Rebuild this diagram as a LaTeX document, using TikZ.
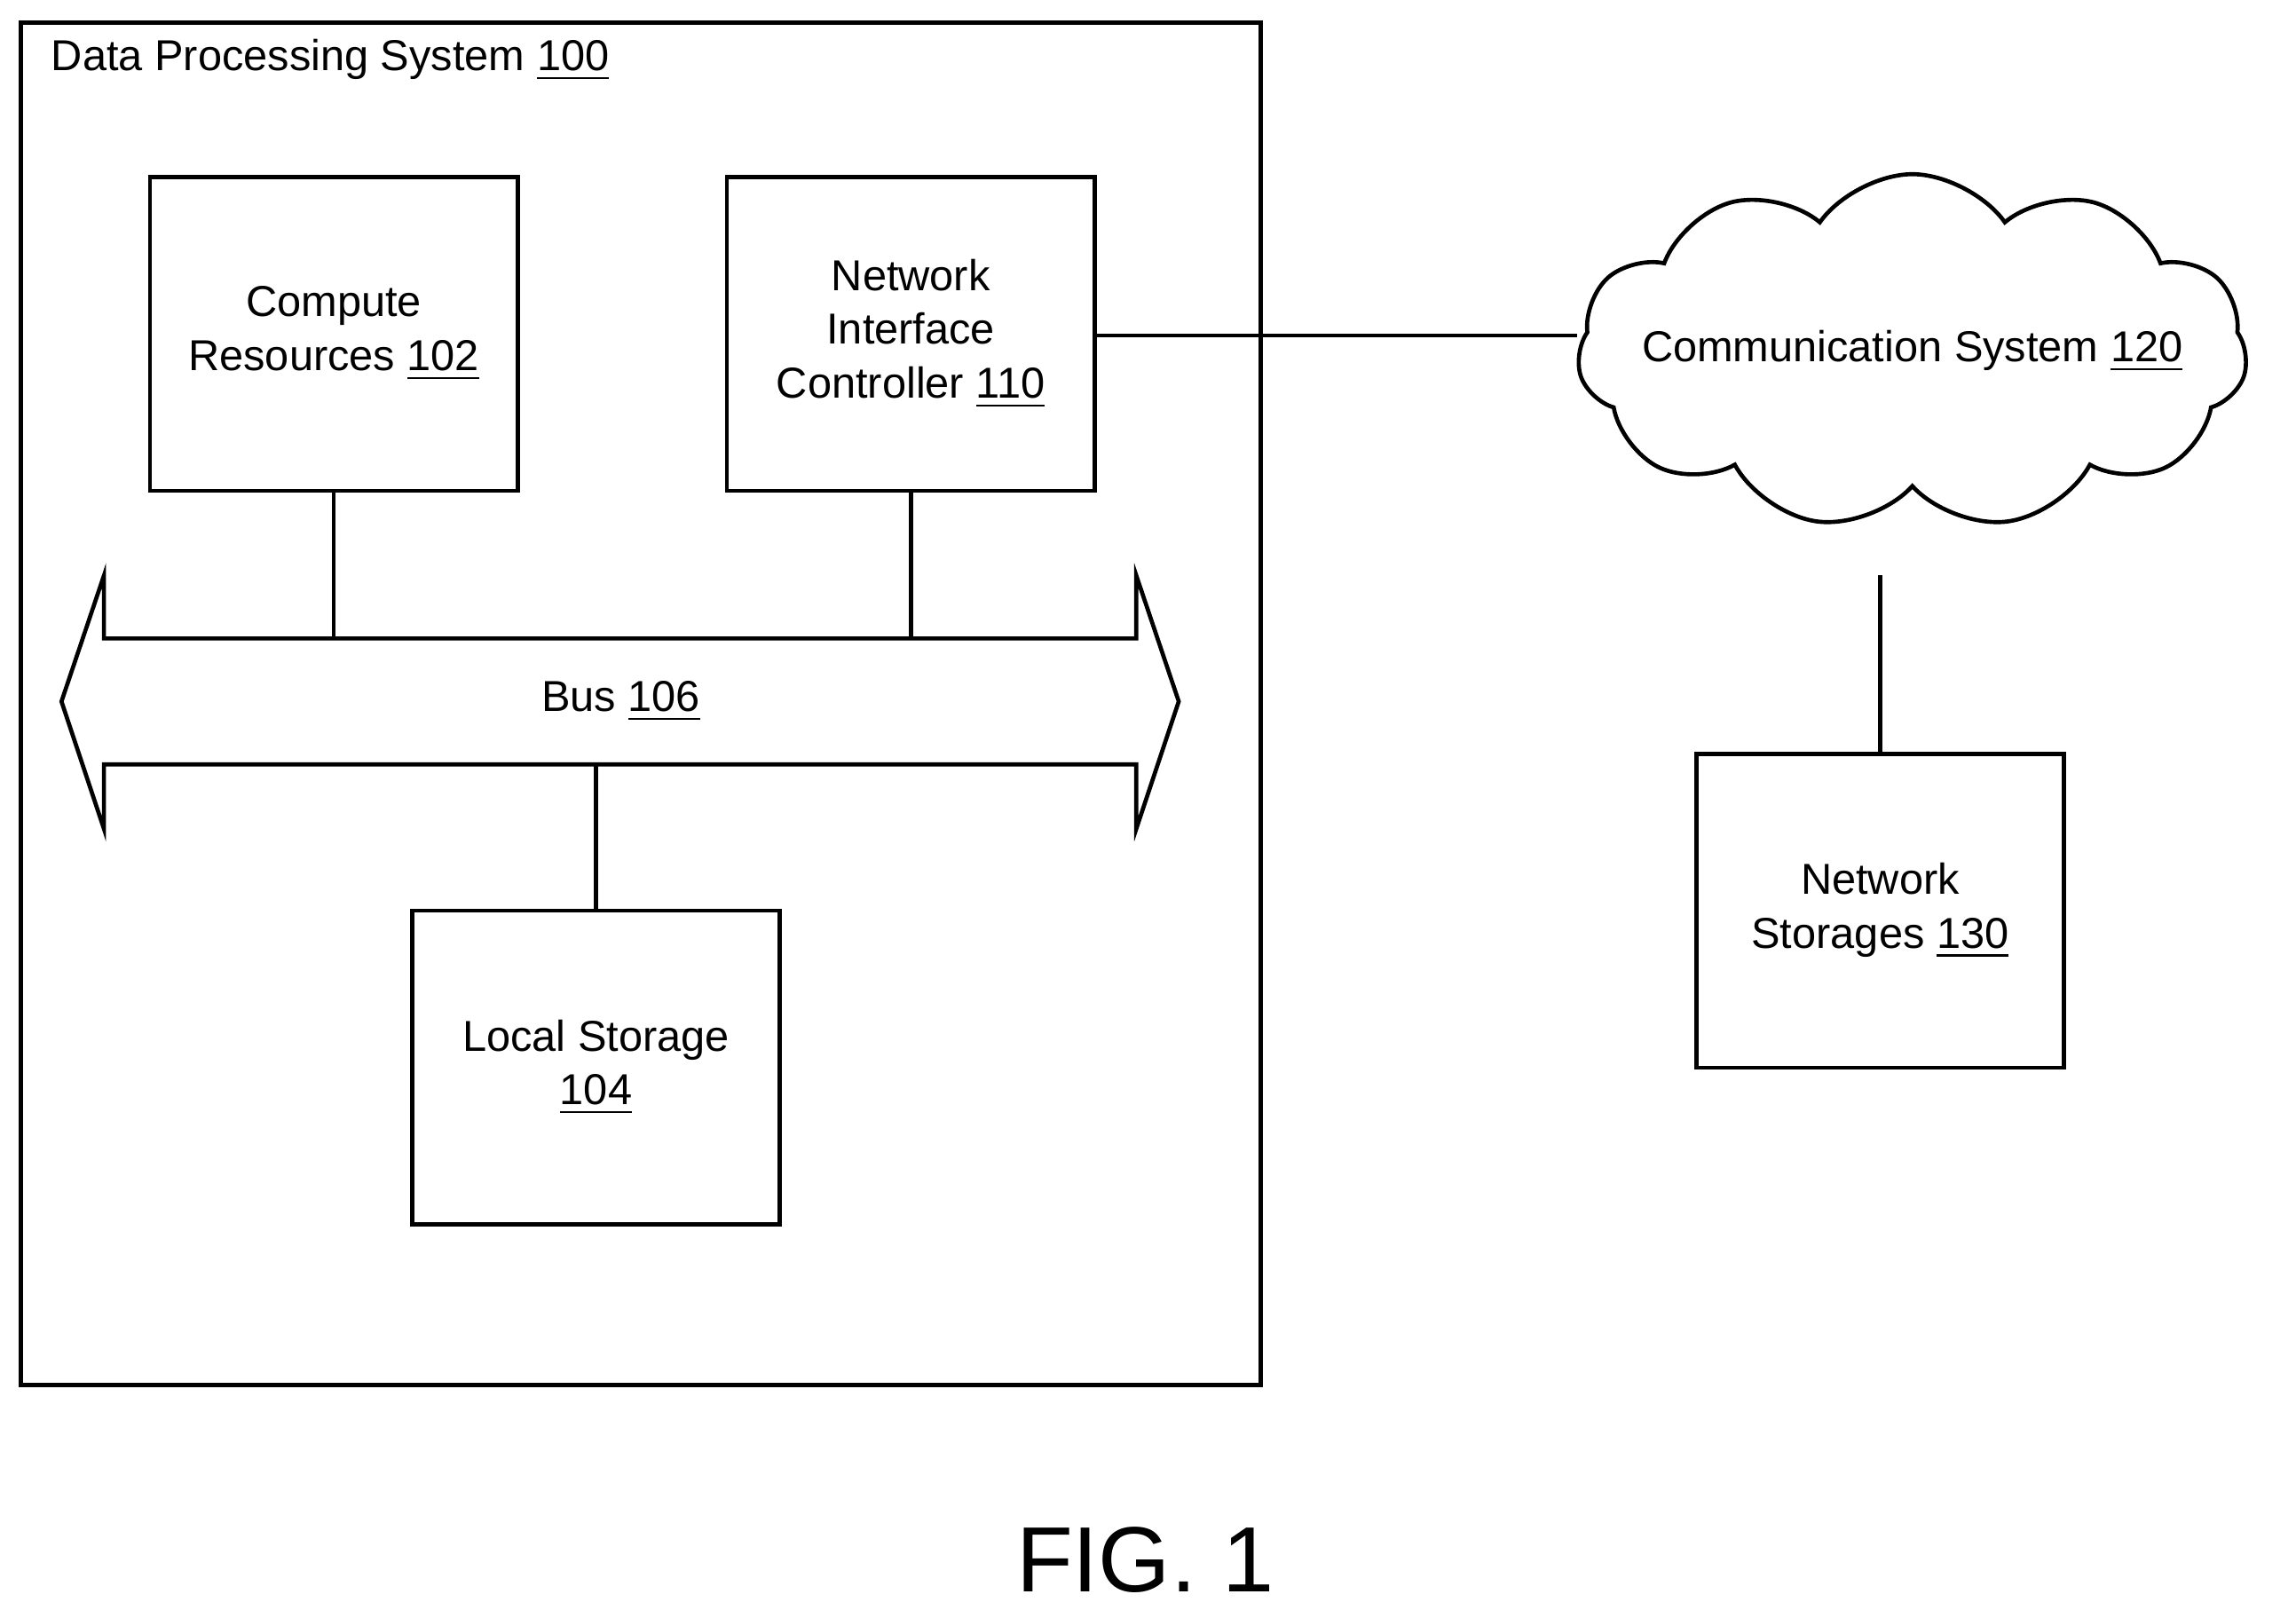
\documentclass[tikz,border=0pt]{standalone}
\usepackage{fontspec}
\setmainfont{Liberation Sans}
\usetikzlibrary{positioning,shapes.symbols}

\begin{document}
\begin{tikzpicture}[x=0.01cm, y=-0.01cm
        , every path/.style={ thick }
        , blk/.style={ draw, minimum width=2.51cm, minimum height=2.14cm, align=center, font=\fontsize{8.4}{10.4}\selectfont }
        , lbl/.style={ font=\fontsize{8.4}{10.4}\selectfont, align=center }
        ]
    \useasboundingbox (0,0) rectangle (1568,1099);

    % outer system
    \node[draw, minimum width=8.46cm, minimum height=9.30cm, anchor=north west] (dps) at (13,14) {};
    \node[lbl, anchor=west] (dpsl) at (22,41) {Data Processing System \underline{100}};

    \node[blk] (cr) at (228,228) {Compute\\Resources \underline{102}};
    \node[blk] (nic) at (622,228) {Network\\Interface\\Controller \underline{110}};
    \node[blk] (ls) at (407,729) {Local Storage\\\underline{104}};

    % bus
    \draw (71,436) -- (776,436) -- (776,393) -- (805,479) -- (776,566) -- (776,522)
        -- (71,522) -- (71,566) -- (42,479) -- (71,393) -- cycle;
    \node[lbl] (bus) at (424,479) {Bus \underline{106}};
    \coordinate (bcr) at (228,436);
    \coordinate (bnic) at (622,436);
    \coordinate (bls) at (407,522);

    \draw (cr) -- (bcr);
    \draw (nic) -- (bnic);
    \draw (bls) -- (ls);

    % network side
    \node[cloud, draw, cloud puffs=11, cloud puff arc=110, aspect=1.6, inner sep=0pt,
          minimum width=4.57cm, minimum height=2.42cm] (cs) at (1306,240) {};
    \node[lbl] (csl) at (1306,240) {Communication System \underline{120}};
    \node[blk] (ns) at (1284,622) {Network\\Storages \underline{130}};
    \coordinate (csb) at (1284,393);

    \draw (nic.east |- 0,229) -- (cs.west |- 0,229);
    \draw (csb) -- (ns);

    \node[font=\fontsize{18}{22}\selectfont] (fig) at (782,1065) {FIG. 1};
\end{tikzpicture}
\end{document}
